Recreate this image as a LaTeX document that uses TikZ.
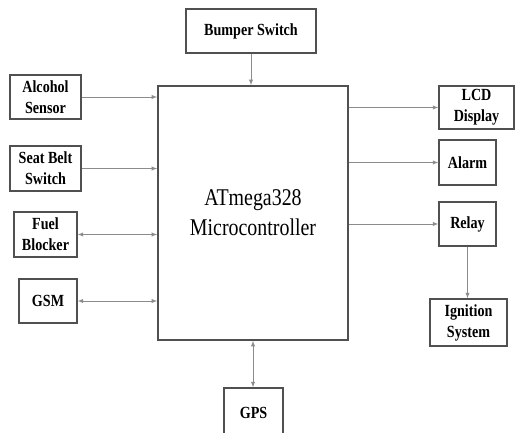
\documentclass[tikz,border=0pt]{standalone}
\usepackage{fontspec}
\setmainfont{Liberation Serif}[FakeStretch=0.83]
\usepackage{tikz}
\usetikzlibrary{shapes,arrows,positioning}
\definecolor{boxgray}{RGB}{80,80,80}
\definecolor{linegray}{RGB}{140,140,140}
\tikzstyle{block} = [rectangle, draw=boxgray, line width=1.3pt, align=center, inner sep=0pt,
 font=\bfseries\fontsize{17}{21}\selectfont]
\tikzstyle{mcu} = [rectangle, draw=boxgray, line width=1.6pt, align=center, inner sep=0pt,
 font=\fontsize{24}{30}\selectfont]
\tikzstyle{line} = [draw=linegray, line width=0.9pt, -latex]
\tikzstyle{biline} = [draw=linegray, line width=0.9pt, latex-latex]

\begin{document}
\begin{tikzpicture}[x=1pt,y=-1pt]
        \useasboundingbox (0,0) rectangle (515,433);

        \node[mcu, minimum width=190pt, minimum height=254pt] at (253,213) (mcu){ATmega328\\Microcontroller};

        % inputs
        \node[block, minimum width=130pt, minimum height=44pt] at (251,31)    (bump){Bumper Switch};
        \node[block, minimum width=71pt, minimum height=44pt]  at (45.5,97)   (alco){Alcohol\\Sensor};
        \node[block, minimum width=71pt, minimum height=45pt]  at (45.5,168.5)(belt){Seat Belt\\Switch};
        \node[block, minimum width=63pt, minimum height=45pt]  at (45.5,234.5)(fuel){Fuel\\Blocker};
        \node[block, minimum width=58pt, minimum height=44pt]  at (48,301)    (gsm){GSM};
        \node[block, minimum width=59pt, minimum height=50pt]  at (253.5,413) (gps){GPS};

        % outputs
        \node[block, minimum width=75pt, minimum height=43pt]  at (476.5,107.5)(lcd){LCD\\Display};
        \node[block, minimum width=57pt, minimum height=45pt]  at (467.5,162.5)(alarm){Alarm};
        \node[block, minimum width=57pt, minimum height=44pt]  at (467.5,224)  (relay){Relay};
        \node[block, minimum width=77pt, minimum height=47pt]  at (468.5,322.5)(ign){Ignition\\System};

        \path[line] (bump.south) -- (bump.south |- mcu.north);
        \path[line] (alco.east) -- (mcu.west |- alco.east);
        \path[line] (belt.east) -- (mcu.west |- belt.east);
        \path[biline] (fuel.east) -- (mcu.west |- fuel.east);
        \path[biline] (gsm.east) -- (mcu.west |- gsm.east);
        \path[biline] (mcu.south |- gps.north) -- (mcu.south);

        \path[line] (mcu.east |- lcd.west) -- (lcd.west);
        \path[line] (mcu.east |- alarm.west) -- (alarm.west);
        \path[line] (mcu.east |- relay.west) -- (relay.west);
        \path[line] (relay.south) -- (relay.south |- ign.north);
      \end{tikzpicture}
\end{document}
